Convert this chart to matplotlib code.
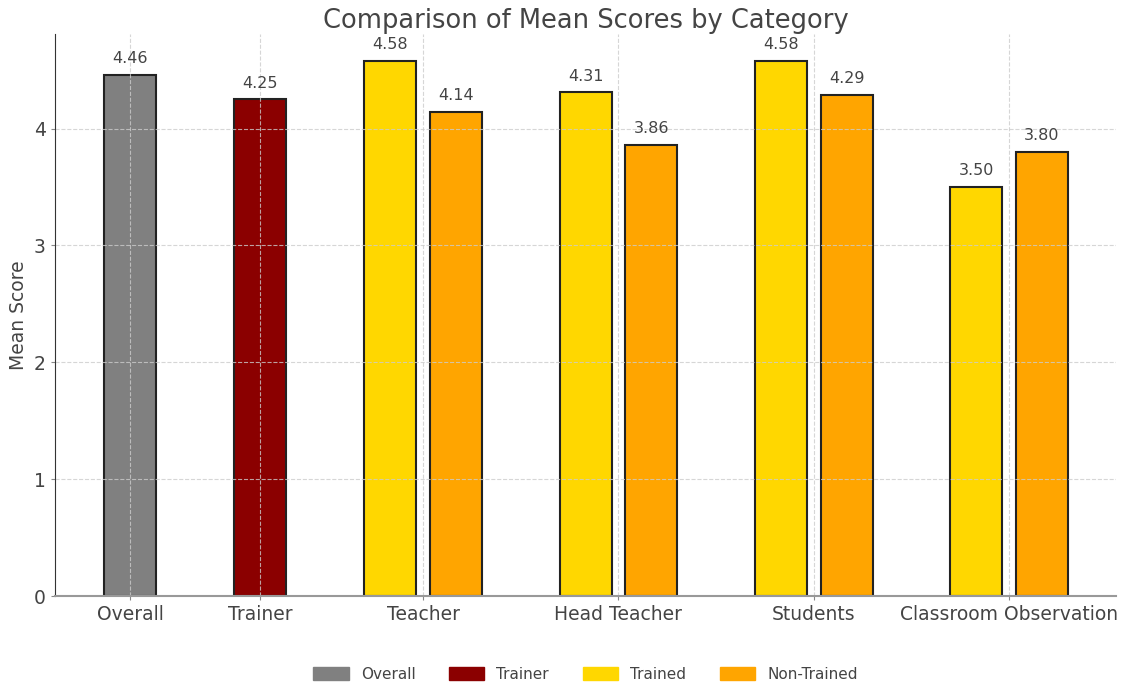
import matplotlib
matplotlib.use('Agg')
import matplotlib.pyplot as plt
import matplotlib.patches as mpatches

plt.rcParams['font.family'] = 'DejaVu Sans'
plt.rcParams['text.color'] = '#444444'
plt.rcParams['axes.labelcolor'] = '#444444'
plt.rcParams['xtick.color'] = '#444444'
plt.rcParams['ytick.color'] = '#444444'

# categories and scores
categories = ['Overall', 'Trainer', 'Teacher', 'Head Teacher', 'Students',
              'Classroom Observation']
overall_score = 4.46
trainer_score = 4.25
group_names = ['Teacher', 'Head Teacher', 'Students', 'Classroom Observation']
trained = [4.58, 4.31, 4.58, 3.50]
non_trained = [4.14, 3.86, 4.29, 3.80]

# where each category sits on the x axis
xpos = [0.5, 1.165, 2, 3, 4, 5]
width = 0.266
offset = 0.168

fig = plt.figure(figsize=(11.33, 6.88), dpi=100)
ax = fig.add_axes([0.0485, 0.1337, 0.9365, 0.8169])

ec = '#222222'
bars = []
bars.append(ax.bar(xpos[0], overall_score, width, color='grey', edgecolor=ec, linewidth=1.5))
bars.append(ax.bar(xpos[1], trainer_score, width, color='darkred', edgecolor=ec, linewidth=1.5))
gx = xpos[2:]
bars.append(ax.bar([x - offset for x in gx], trained, width, color='gold',
                   edgecolor=ec, linewidth=1.5))
bars.append(ax.bar([x + offset for x in gx], non_trained, width, color='orange',
                   edgecolor=ec, linewidth=1.5))

for b in bars:
    for rect in b:
        h = rect.get_height()
        ax.text(rect.get_x() + rect.get_width() / 2, h + 0.075, f'{h:.2f}',
                ha='center', va='bottom', fontsize=11.5)

ax.set_xticks(xpos)
ax.set_xticklabels(categories, fontsize=13.5)
ax.tick_params(axis='y', labelsize=13.5)
ax.set_yticks([0, 1, 2, 3, 4])
ax.set_xlim(0.115, 5.547)
ax.set_ylim(0, max(trained) * 1.05)
ax.set_ylabel('Mean Score', fontsize=13.5)
ax.set_title('Comparison of Mean Scores by Category', fontsize=18.5, pad=4)

ax.grid(True, linestyle='--', color='#cccccc', linewidth=0.8, alpha=0.8)
for s in ['top', 'right']:
    ax.spines[s].set_visible(False)
ax.spines['left'].set_color('#333333')
ax.spines['bottom'].set_color('#999999')
ax.spines['bottom'].set_linewidth(1.5)
ax.tick_params(length=3, color='#888888')

handles = [mpatches.Patch(color='grey', label='Overall'),
           mpatches.Patch(color='darkred', label='Trainer'),
           mpatches.Patch(color='gold', label='Trained'),
           mpatches.Patch(color='orange', label='Non-Trained')]
ax.legend(handles=handles, loc='upper center', bbox_to_anchor=(0.5, -0.102),
          ncol=4, frameon=False, fontsize=11, handlelength=2.3, handleheight=0.9,
          columnspacing=2.2)

plt.savefig('out.png')
